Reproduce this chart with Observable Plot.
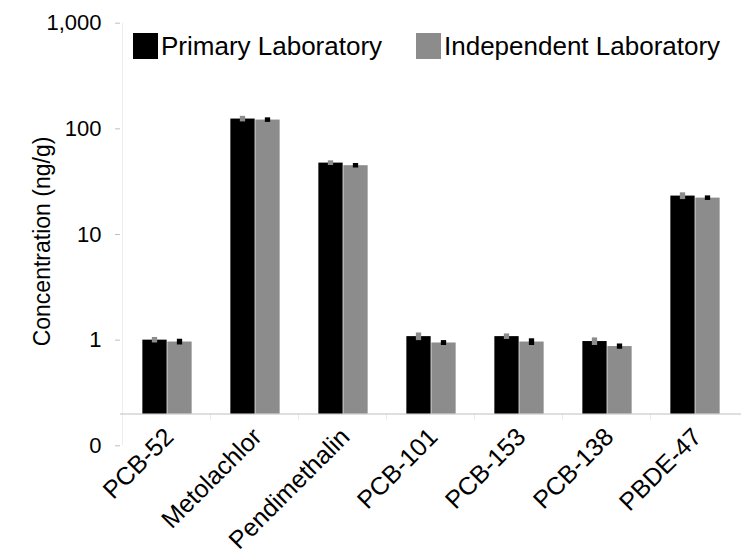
<!DOCTYPE html>
<html><head><meta charset="utf-8">
<script src="https://cdn.jsdelivr.net/npm/d3@7"></script>
<script src="https://cdn.jsdelivr.net/npm/@observablehq/plot@0.6"></script>
<style>
body{margin:0;background:#fff;font-family:"Liberation Sans",Arial,sans-serif;}
#wrap{position:relative;width:741px;height:555px;}
.item{position:absolute;top:33px;display:flex;align-items:center;font-size:26px;height:26px;color:#000;white-space:nowrap;}
.sw{width:25px;height:26px;display:inline-block;margin-right:3px;}
</style></head><body><div id="wrap"></div>
<script>
const categories = ["PCB-52","Metolachlor","Pendimethalin","PCB-101","PCB-153","PCB-138","PBDE-47"];
const seriesNames = ["Primary Laboratory","Independent Laboratory"];
const seriesColors = ["#000000","#8c8c8c"];
const primaryValues = [1.00,123.8,47.4,1.08,1.08,0.97,23.1];
const primaryErrors = [0.06,7.5,2.4,0.09,0.065,0.08,1.7];
const independentValues = [0.96,121.1,44.8,0.94,0.96,0.87,22.1];
const independentErrors = [0.06,6,2.2,0.05,0.07,0.05,1.1];
const yTicks = [0.1,1,10,100,1000];
const yDomain = [0.1,1000];
const axisBase = 0.2;
const yLabel = "Concentration (ng/g)";

const W = 741, H = 555, mL = 120, mR = 0, mT = 22.7, mB = 109.7;
const step = (W - mL - mR) / categories.length;
const barW = 25, errW = 6;
const barInset = (step - barW) / 2;
const errInset = (step - errW) / 2;

const rows = (vals, errs, s) => categories.map((c, i) => ({category: c, series: seriesNames[s], value: vals[i], err: errs[i]}));
const prim = rows(primaryValues, primaryErrors, 0);
const indep = rows(independentValues, independentErrors, 1);
const fmt = d => d < 1 ? "0" : d3.format(",")(d);

const chart = Plot.plot({
  width: W, height: H,
  marginLeft: mL, marginRight: mR, marginTop: mT, marginBottom: mB,
  style: {fontFamily: '"Liberation Sans", Arial, sans-serif', background: "#fff", color: "#000"},
  x: {type: "band", domain: categories, padding: 0, axis: null},
  y: {type: "log", domain: yDomain, axis: null},
  color: {domain: seriesNames, range: seriesColors},
  marks: [
    Plot.barY([categories[0]], {x: d => d, y1: yDomain[0], y2: yDomain[1], fill: "#bfbfbf", insetLeft: -0.5, insetRight: step - 0.5}),
    Plot.axisY({ticks: yTicks, tickFormat: fmt, tickSize: 5, tickPadding: 14, fontSize: 22, stroke: "#bfbfbf", fill: "#000", label: null}),
    Plot.text([yLabel], {frameAnchor: "left", textAnchor: "middle", rotate: -90, dx: -78, dy: 7, fontSize: 23, fill: "#000"}),
    Plot.ruleY([axisBase], {stroke: "#bfbfbf", strokeWidth: 1.2}),
    Plot.barY(categories.slice(1), {x: d => d, y1: axisBase, y2: axisBase, fill: "#bfbfbf", insetLeft: -0.5, insetRight: step - 0.5, insetBottom: -7}),
    Plot.barY(prim, {x: "category", y1: axisBase, y2: "value", fill: "series", insetLeft: barInset, insetRight: barInset, dx: -barW / 2}),
    Plot.barY(indep, {x: "category", y1: axisBase, y2: "value", fill: "series", insetLeft: barInset, insetRight: barInset, dx: barW / 2}),
    Plot.barY(prim, {x: "category", y1: d => d.value - d.err, y2: d => d.value + d.err, fill: seriesColors[1], insetLeft: errInset, insetRight: errInset, dx: -barW / 2}),
    Plot.barY(indep, {x: "category", y1: d => d.value - d.err, y2: d => d.value + d.err, fill: seriesColors[0], insetLeft: errInset, insetRight: errInset, dx: barW / 2}),
    Plot.axisX({tickRotate: -45, tickSize: 0, tickPadding: 0, fontSize: 25, fill: "#000", dx: 2, dy: -13, label: null})
  ]
});
const wrap = document.getElementById("wrap");
wrap.appendChild(chart);

const legendLefts = [133, 416];
seriesNames.forEach((name, i) => {
  const item = document.createElement("div");
  item.className = "item";
  item.style.left = legendLefts[i] + "px";
  const sw = document.createElement("span");
  sw.className = "sw";
  sw.style.background = seriesColors[i];
  item.appendChild(sw);
  item.appendChild(document.createTextNode(name));
  wrap.appendChild(item);
});
</script></body></html>
